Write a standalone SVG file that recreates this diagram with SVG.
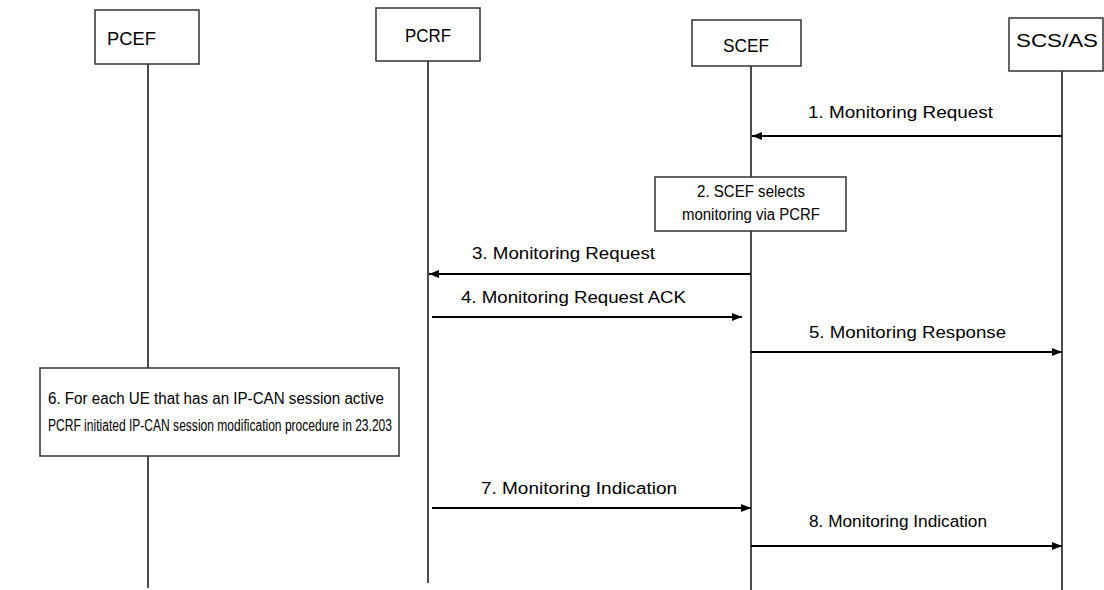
<svg xmlns="http://www.w3.org/2000/svg" width="1104" height="590" viewBox="0 0 1104 590">
<defs>
<marker id="ah" markerWidth="10" markerHeight="8" refX="10" refY="4" orient="auto" markerUnits="userSpaceOnUse">
<path d="M0,0 L10,4 L0,8 Z" fill="#000"/>
</marker>
</defs>
<style>
.box{fill:#fff;stroke:#333;stroke-width:1.5}
.life{stroke:#000;stroke-width:1.4}
.msg{stroke:#000;stroke-width:2;marker-end:url(#ah)}
text{font-family:"Liberation Sans",Arial,sans-serif;fill:#000}
.h{font-size:19px}
.l{font-size:16px}
</style>
<rect width="1104" height="590" fill="#fff"/>
<g id="lifelines">
<line class="life" x1="148" y1="64" x2="148" y2="588"/>
<line class="life" x1="428" y1="61" x2="428" y2="583"/>
<line class="life" x1="751" y1="66" x2="751" y2="590"/>
<line class="life" x1="1062" y1="71" x2="1062" y2="590"/>
</g>
<g id="PCEF"><rect class="box" x="95" y="10" width="104" height="54"/><text class="h" x="107" y="45" textLength="49" lengthAdjust="spacingAndGlyphs">PCEF</text></g>
<g id="PCRF"><rect class="box" x="376" y="8" width="104" height="53"/><text class="h" x="405" y="42" textLength="46" lengthAdjust="spacingAndGlyphs">PCRF</text></g>
<g id="SCEF"><rect class="box" x="692" y="20" width="109" height="46"/><text class="h" x="723" y="52" textLength="46" lengthAdjust="spacingAndGlyphs">SCEF</text></g>
<g id="SCSAS"><rect class="box" x="1009" y="18" width="94" height="53"/><text class="h" x="1016" y="47" textLength="82" lengthAdjust="spacingAndGlyphs">SCS/AS</text></g>
<g id="step2"><rect class="box" x="655" y="177" width="191" height="54"/>
<text class="l" x="697" y="197" textLength="108" lengthAdjust="spacingAndGlyphs">2. SCEF selects</text>
<text class="l" x="682" y="220" textLength="138" lengthAdjust="spacingAndGlyphs">monitoring via PCRF</text></g>
<g id="step6"><rect class="box" x="40" y="368" width="359" height="88"/>
<text class="l" x="48" y="404" textLength="336" lengthAdjust="spacingAndGlyphs">6. For each UE that has an IP-CAN session active</text>
<text class="l" x="48" y="431" textLength="344" lengthAdjust="spacingAndGlyphs">PCRF initiated IP-CAN session modification procedure in 23.203</text></g>
<g id="connectors">
<line class="msg" x1="1062" y1="136" x2="752" y2="136"/>
<line class="msg" x1="751" y1="274" x2="429" y2="274"/>
<line class="msg" x1="432" y1="317" x2="742" y2="317"/>
<line class="msg" x1="751" y1="352" x2="1062" y2="352"/>
<line class="msg" x1="432" y1="508" x2="751" y2="508"/>
<line class="msg" x1="751" y1="546" x2="1062" y2="546"/>
</g>
<g id="labels">
<text class="l" x="808" y="118" textLength="185" lengthAdjust="spacingAndGlyphs">1. Monitoring  Request</text>
<text class="l" x="472" y="259" textLength="183" lengthAdjust="spacingAndGlyphs">3. Monitoring  Request</text>
<text class="l" x="461" y="303" textLength="225" lengthAdjust="spacingAndGlyphs">4. Monitoring  Request ACK</text>
<text class="l" x="809" y="338" textLength="197" lengthAdjust="spacingAndGlyphs">5. Monitoring  Response</text>
<text class="l" x="481" y="494" textLength="196" lengthAdjust="spacingAndGlyphs">7. Monitoring  Indication</text>
<text class="l" x="809" y="527" textLength="178" lengthAdjust="spacingAndGlyphs">8. Monitoring  Indication</text>
</g>
</svg>
